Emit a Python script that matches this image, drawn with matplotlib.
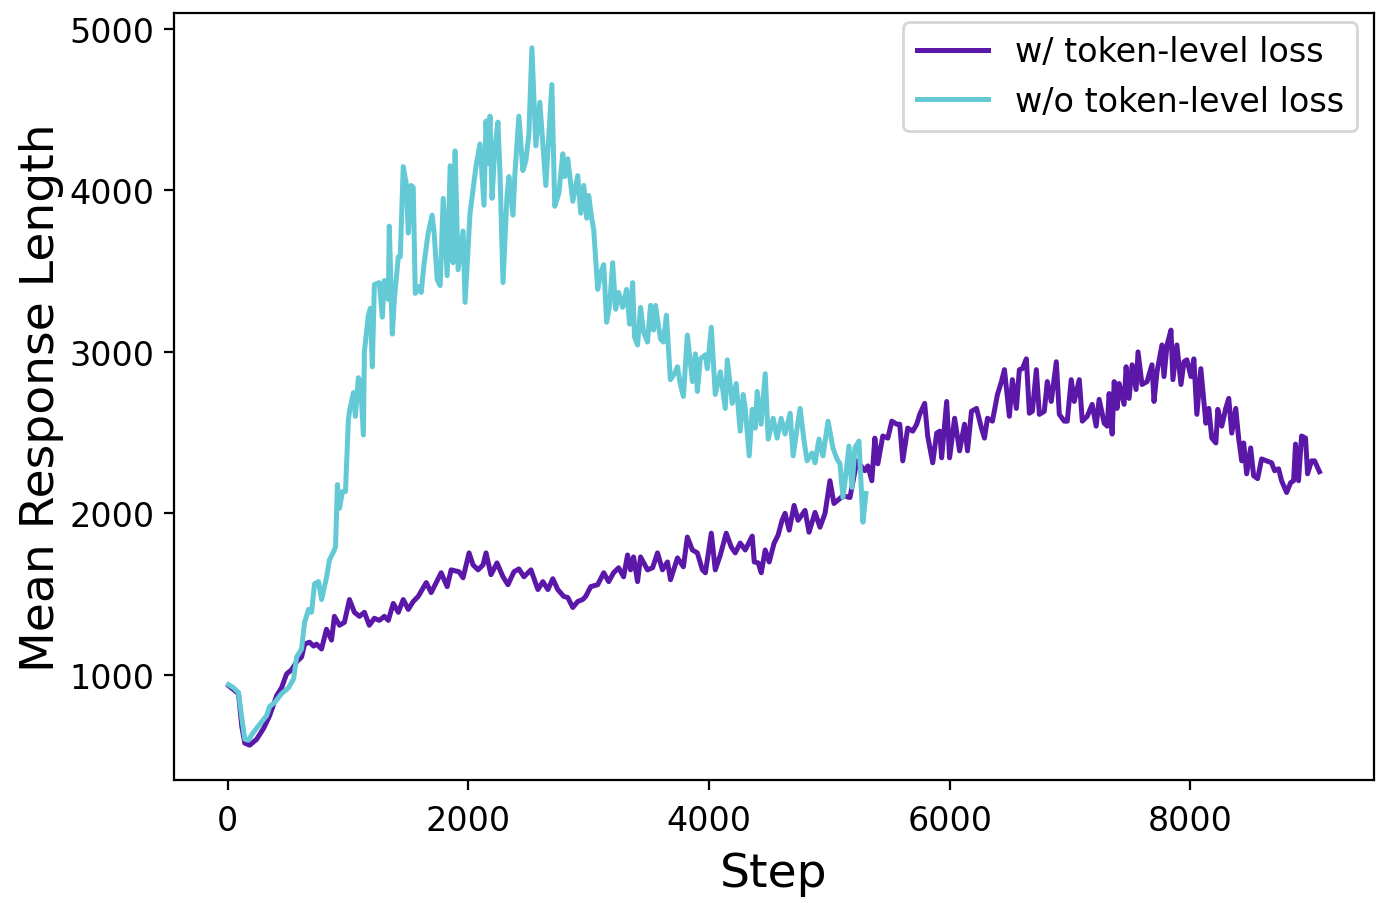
import matplotlib
matplotlib.use("Agg")
import matplotlib.pyplot as plt

# w/ token-level loss (purple)
with_steps = [6, 89, 116, 141, 182, 240, 298, 348, 406, 447, 489, 530, 572, 613, 638, 679, 713, 737, 779, 820,
              862, 886, 928, 969, 1011, 1052, 1094, 1135, 1176, 1218, 1259, 1301, 1334, 1375, 1417, 1458, 1500, 1541, 1582, 1649,
              1690, 1715, 1773, 1823, 1856, 1922, 1955, 2005, 2038, 2080, 2121, 2146, 2187, 2237, 2287, 2328, 2378, 2419, 2461, 2519,
              2577, 2618, 2660, 2701, 2742, 2792, 2825, 2867, 2908, 2949, 2974, 3016, 3074, 3124, 3165, 3206, 3248, 3289, 3322, 3347,
              3372, 3405, 3430, 3488, 3530, 3571, 3612, 3654, 3679, 3737, 3786, 3819, 3861, 3902, 3944, 3969, 4018, 4051, 4093, 4142,
              4184, 4217, 4258, 4300, 4358, 4375, 4408, 4433, 4466, 4499, 4540, 4573, 4606, 4631, 4665, 4706, 4739, 4797, 4830, 4880,
              4921, 4963, 5004, 5037, 5087, 5112, 5170, 5228, 5294, 5319, 5352, 5377, 5402, 5443, 5485, 5518, 5559, 5584, 5609, 5650,
              5692, 5725, 5750, 5791, 5816, 5858, 5891, 5916, 5932, 5974, 5998, 6040, 6081, 6122, 6147, 6180, 6222, 6263, 6288, 6313,
              6354, 6396, 6429, 6454, 6495, 6520, 6553, 6578, 6603, 6636, 6661, 6686, 6719, 6744, 6785, 6810, 6843, 6885, 6910, 6951,
              6976, 7009, 7034, 7076, 7101, 7142, 7183, 7216, 7241, 7283, 7308, 7324, 7349, 7366, 7390, 7407, 7448, 7465, 7490, 7515,
              7548, 7564, 7597, 7639, 7680, 7697, 7722, 7763, 7780, 7805, 7838, 7854, 7887, 7921, 7946, 7970, 8004, 8028, 8053, 8086,
              8128, 8152, 8177, 8211, 8227, 8260, 8293, 8318, 8343, 8376, 8401, 8426, 8442, 8467, 8500, 8525, 8558, 8591, 8633, 8674,
              8699, 8732, 8757, 8799, 8832, 8857, 8873, 8898, 8923, 8956, 8973, 9006, 9031, 9072]
with_len = [933, 883, 681, 577, 564, 601, 669, 748, 871, 920, 1006, 1031, 1080, 1110, 1190, 1202, 1178, 1190, 1160, 1282,
            1215, 1362, 1307, 1325, 1466, 1387, 1362, 1387, 1307, 1350, 1337, 1362, 1337, 1442, 1387, 1466, 1405, 1454, 1485, 1571,
            1509, 1546, 1632, 1546, 1650, 1638, 1601, 1755, 1681, 1650, 1681, 1755, 1620, 1693, 1607, 1558, 1638, 1656, 1607, 1650,
            1528, 1577, 1528, 1595, 1528, 1485, 1479, 1417, 1454, 1466, 1485, 1546, 1558, 1632, 1577, 1632, 1663, 1607, 1742, 1650,
            1730, 1577, 1730, 1650, 1663, 1755, 1650, 1699, 1589, 1724, 1669, 1853, 1773, 1755, 1650, 1632, 1877, 1650, 1742, 1877,
            1791, 1755, 1816, 1773, 1859, 1699, 1693, 1632, 1773, 1699, 1816, 1865, 1957, 2000, 1896, 2049, 1957, 2018, 1883, 2006,
            1914, 2000, 2202, 2061, 2092, 2110, 2098, 2325, 2264, 2294, 2202, 2466, 2307, 2479, 2466, 2571, 2552, 2552, 2325, 2528,
            2509, 2552, 2613, 2681, 2479, 2313, 2497, 2509, 2344, 2693, 2344, 2589, 2387, 2552, 2387, 2632, 2650, 2528, 2466, 2589,
            2571, 2736, 2816, 2890, 2601, 2828, 2650, 2890, 2896, 2957, 2620, 2632, 2890, 2613, 2632, 2816, 2693, 2939, 2613, 2571,
            2571, 2828, 2693, 2828, 2571, 2601, 2675, 2540, 2706, 2558, 2540, 2742, 2491, 2816, 2650, 2804, 2675, 2908, 2712, 2920,
            2767, 3000, 2798, 2816, 2920, 2693, 2877, 3043, 2847, 3043, 3135, 2828, 3043, 2798, 2939, 2951, 2847, 2957, 2613, 2896,
            2558, 2650, 2466, 2436, 2644, 2540, 2650, 2712, 2497, 2650, 2460, 2325, 2436, 2245, 2405, 2233, 2215, 2337, 2325, 2313,
            2264, 2276, 2202, 2129, 2190, 2202, 2429, 2202, 2479, 2466, 2245, 2325, 2325, 2258]

# w/o token-level loss (cyan)
without_steps = [6, 47, 89, 116, 141, 171, 213, 265, 323, 348, 389, 447, 505, 547, 572, 613, 638, 671, 696, 721,
                 754, 779, 820, 845, 878, 895, 911, 928, 953, 978, 1002, 1011, 1044, 1060, 1085, 1102, 1127, 1135, 1168, 1185,
                 1201, 1218, 1259, 1284, 1301, 1334, 1342, 1367, 1384, 1417, 1433, 1458, 1483, 1500, 1524, 1541, 1558, 1591, 1607, 1632,
                 1665, 1698, 1715, 1740, 1765, 1790, 1823, 1848, 1872, 1889, 1914, 1955, 1972, 2013, 2063, 2096, 2129, 2146, 2162, 2179,
                 2196, 2220, 2245, 2262, 2287, 2320, 2336, 2370, 2386, 2419, 2452, 2477, 2502, 2527, 2560, 2593, 2643, 2693, 2717, 2751,
                 2784, 2800, 2825, 2867, 2908, 2933, 2958, 2983, 2999, 3024, 3041, 3074, 3099, 3124, 3148, 3173, 3198, 3223, 3248, 3281,
                 3314, 3339, 3364, 3380, 3405, 3430, 3455, 3488, 3513, 3538, 3554, 3596, 3620, 3645, 3678, 3712, 3737, 3761, 3786, 3819,
                 3861, 3886, 3902, 3927, 3969, 3985, 4018, 4051, 4093, 4134, 4151, 4192, 4225, 4258, 4283, 4300, 4333, 4358, 4383, 4399,
                 4432, 4466, 4491, 4532, 4565, 4598, 4631, 4673, 4698, 4731, 4756, 4789, 4814, 4855, 4880, 4913, 4946, 4988, 5029, 5062,
                 5087, 5112, 5137, 5162, 5187, 5211, 5245, 5278, 5303]
without_len = [939, 920, 890, 736, 601, 595, 644, 693, 748, 804, 828, 883, 920, 975, 1110, 1160, 1325, 1405, 1387, 1564,
               1577, 1466, 1601, 1712, 1761, 1791, 2178, 2031, 2135, 2135, 2577, 2632, 2748, 2601, 2840, 2816, 2485, 3000, 3227, 3270,
               2908, 3417, 3429, 3215, 3442, 3325, 3779, 3110, 3325, 3589, 3589, 4147, 4043, 3736, 4031, 4018, 3362, 3405, 3368, 3552,
               3736, 3847, 3736, 3448, 3411, 3951, 3472, 4153, 3552, 4245, 3509, 3748, 3307, 3859, 4153, 4288, 3908, 4430, 4166, 4460,
               3951, 4270, 4423, 4104, 3429, 3963, 4086, 3847, 4104, 4460, 4123, 4184, 4350, 4883, 4276, 4546, 4031, 4656, 3902, 3982,
               4227, 4086, 4196, 3933, 4092, 3859, 4031, 3828, 3969, 3828, 3755, 3387, 3491, 3540, 3184, 3288, 3552, 3264, 3368, 3276,
               3387, 3172, 3429, 3092, 3043, 3276, 3123, 3061, 3288, 3135, 3288, 3080, 3061, 3227, 2828, 2865, 2908, 2798, 2724, 3104,
               2816, 2988, 2755, 2957, 2982, 2896, 3153, 2736, 2877, 2650, 2951, 2681, 2804, 2509, 2736, 2650, 2356, 2644, 2528, 2755,
               2552, 2865, 2460, 2589, 2466, 2589, 2491, 2620, 2356, 2528, 2650, 2448, 2325, 2374, 2313, 2460, 2356, 2571, 2405, 2337,
               2307, 2098, 2245, 2417, 2160, 2405, 2448, 1945, 2123]

purple = '#5b18a8'
cyan = '#63c9d4'

fig = plt.figure(figsize=(6.92, 4.52), dpi=200)
ax = fig.add_axes([0.1257, 0.136, 0.8671, 0.8485])

ax.plot(with_steps, with_len, color=purple, lw=1.8, label='w/ token-level loss')
ax.plot(without_steps, without_len, color=cyan, lw=1.8, label='w/o token-level loss')

ax.set_xlabel('Step', fontsize=17, labelpad=5)
ax.set_ylabel('Mean Response Length', fontsize=17, labelpad=2)
ax.tick_params(labelsize=12)
ax.tick_params(axis='x', pad=5)
ax.set_xticks([0, 2000, 4000, 6000, 8000])
ax.set_yticks([1000, 2000, 3000, 4000, 5000])

ax.legend(loc='upper right', fontsize=12, handlelength=2.15,
          bbox_to_anchor=(1.0, 1.01))

fig.savefig('out.png', dpi=200)
